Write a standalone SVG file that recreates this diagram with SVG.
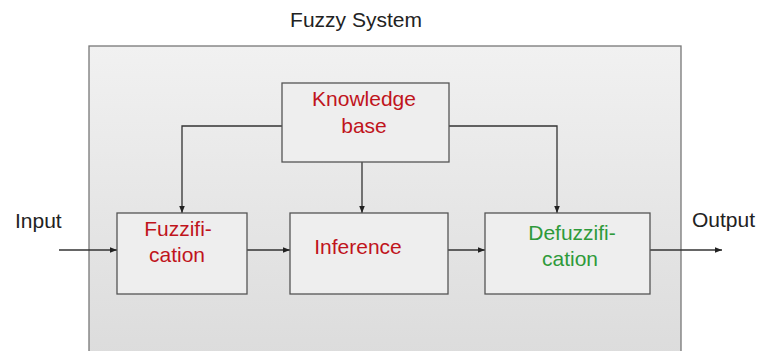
<svg xmlns="http://www.w3.org/2000/svg" width="760" height="351" viewBox="0 0 760 351">
<style>
text{font-family:"Liberation Sans",Arial,sans-serif;font-size:21px}
.lbl{fill:#222}
.red{fill:#c0141c}
.green{fill:#2e9a3a}
.box{fill:#eeeeee;stroke:#555;stroke-width:1.3}
.con{fill:none;stroke:#333;stroke-width:1.3}
</style>
<defs>
<linearGradient id="bg" x1="0" y1="0" x2="0" y2="1">
<stop offset="0" stop-color="#f1f1f1"/>
<stop offset="1" stop-color="#dcdcdc"/>
</linearGradient>
<marker id="ah" viewBox="0 0 10 10" refX="10" refY="5" markerWidth="7" markerHeight="7" markerUnits="userSpaceOnUse" orient="auto">
<path d="M0,1 L10,5 L0,9 z" fill="#222"/>
</marker>
</defs>
<rect width="760" height="351" fill="#ffffff"/>
<g id="system">
<rect x="89" y="46" width="592" height="310" fill="url(#bg)" stroke="#777" stroke-width="1.3"/>
<text x="356" y="27" text-anchor="middle" class="lbl">Fuzzy System</text>
</g>
<g id="connectors">
<path class="con" d="M282,126 H182 V213" marker-end="url(#ah)"/>
<path class="con" d="M449,126 H557 V213" marker-end="url(#ah)"/>
<path class="con" d="M362,162 V213" marker-end="url(#ah)"/>
<path class="con" d="M59,250 H117" marker-end="url(#ah)"/>
<path class="con" d="M247,250 H290" marker-end="url(#ah)"/>
<path class="con" d="M448,250 H485" marker-end="url(#ah)"/>
<path class="con" d="M650,250 H722" marker-end="url(#ah)"/>
</g>
<g id="knowledge">
<rect class="box" x="282" y="83" width="167" height="79"/>
<text x="364" y="106" text-anchor="middle" class="red">Knowledge</text>
<text x="364" y="133" text-anchor="middle" class="red">base</text>
</g>
<g id="fuzzification">
<rect class="box" x="117" y="213" width="130" height="81"/>
<text x="178" y="236" text-anchor="middle" class="red">Fuzzifi-</text>
<text x="177" y="262" text-anchor="middle" class="red">cation</text>
</g>
<g id="inference">
<rect class="box" x="290" y="213" width="158" height="81"/>
<text x="358" y="254" text-anchor="middle" class="red">Inference</text>
</g>
<g id="defuzzification">
<rect class="box" x="485" y="213" width="165" height="81"/>
<text x="572" y="240" text-anchor="middle" class="green">Defuzzifi-</text>
<text x="570" y="266" text-anchor="middle" class="green">cation</text>
</g>
<g id="input">
<text x="15" y="228" class="lbl">Input</text>
</g>
<g id="output">
<text x="692" y="227" class="lbl">Output</text>
</g>
</svg>
